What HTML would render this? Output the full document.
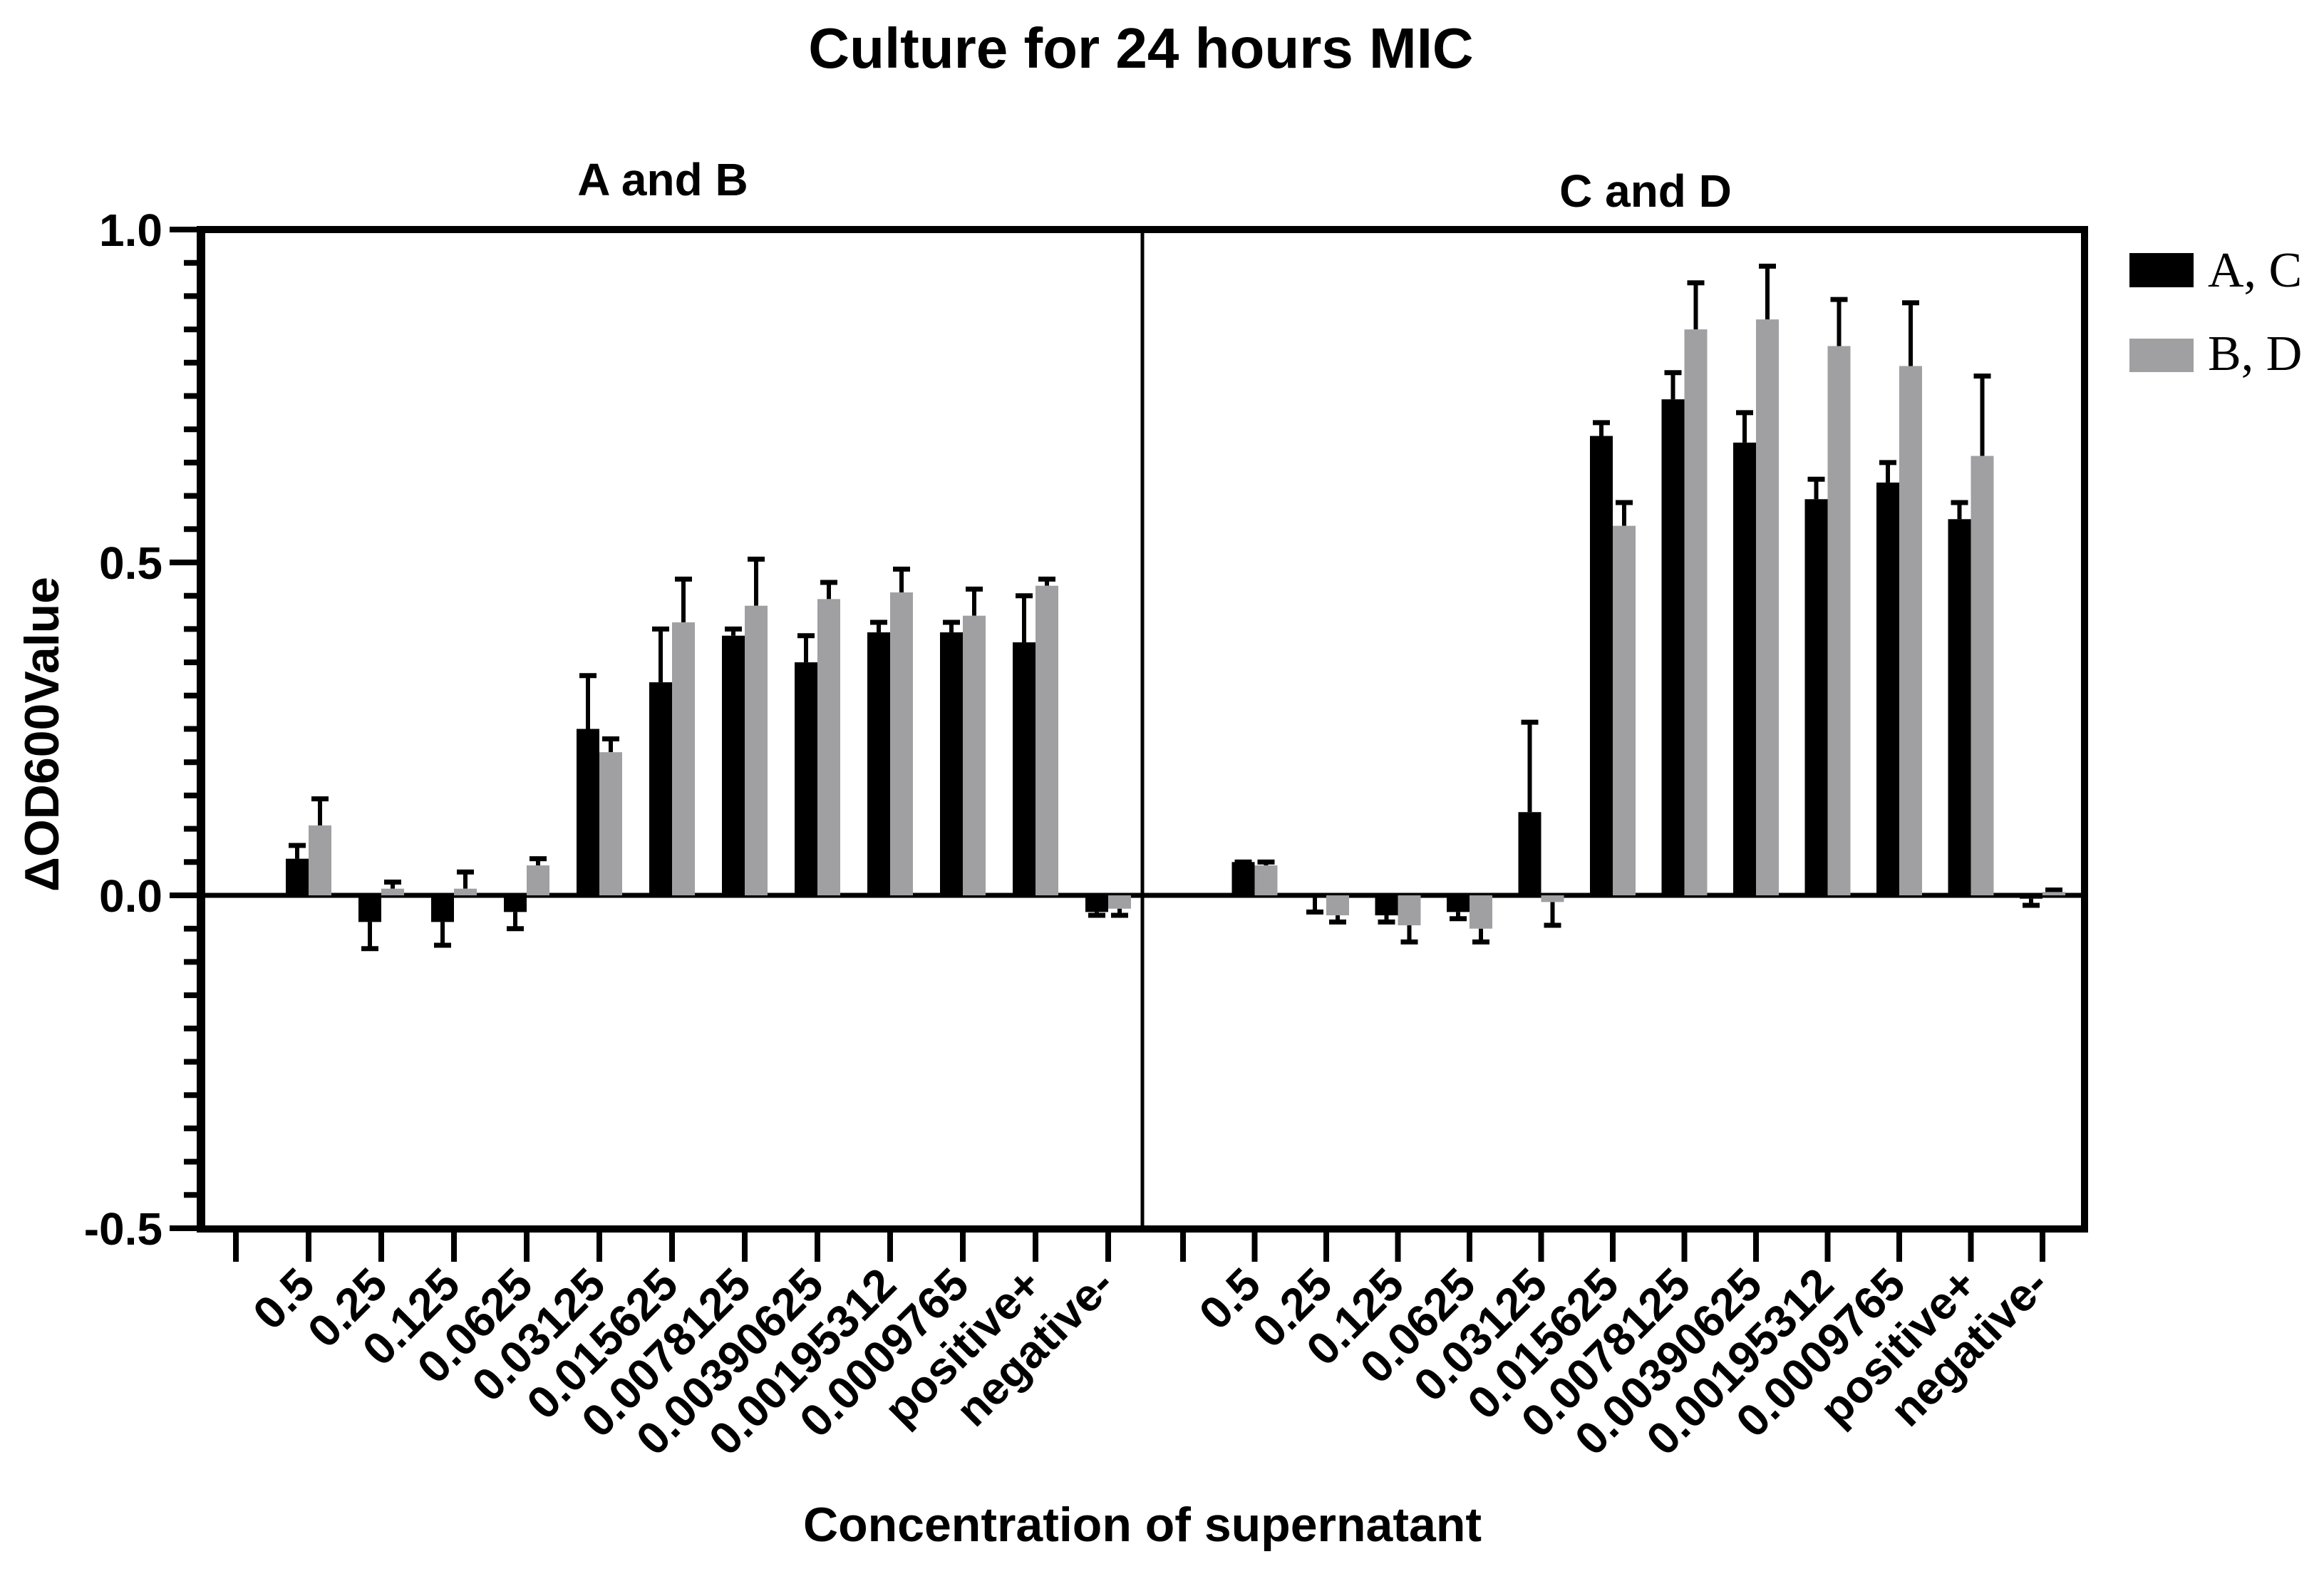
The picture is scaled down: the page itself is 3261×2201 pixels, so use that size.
<!DOCTYPE html>
<html><head><meta charset="utf-8"><style>
html,body{margin:0;padding:0;background:#fff;}
svg{display:block;}
text{font-family:"Liberation Sans",Arial,sans-serif;font-weight:bold;fill:#000;}
</style></head><body>
<svg id="chart" width="3261" height="2201" viewBox="0 0 3261 2201" xmlns="http://www.w3.org/2000/svg">
<text x="1601" y="95" font-size="80" text-anchor="middle">Culture for 24 hours MIC</text>
<text x="930" y="274" font-size="64" text-anchor="middle">A and B</text>
<text x="2309" y="290" font-size="64" text-anchor="middle">C and D</text>
<text transform="translate(82,1030) rotate(-90)" font-size="68" text-anchor="middle">ΔOD600Value</text>
<text x="1603" y="2162" font-size="68" text-anchor="middle">Concentration of supernatant</text>
<g id="marks"></g>
<g>
<rect x="2988" y="355" width="90" height="48" fill="#000"/>
<text x="3098" y="402" font-size="70" style="font-family:'Liberation Serif',serif;font-weight:normal">A, C</text>
<rect x="2988" y="475" width="90" height="47" fill="#a0a0a3"/>
<text x="3098" y="519" font-size="70" style="font-family:'Liberation Serif',serif;font-weight:normal">B, D</text>
</g>
</svg>
<script>
const categories = ["0.5","0.25","0.125","0.0625","0.03125","0.015625","0.0078125","0.00390625","0.00195312","0.0009765","positive+","negative-"];
const seriesA = [0.055,-0.04,-0.04,-0.025,0.25,0.32,0.39,0.35,0.395,0.395,0.38,-0.025];
const errA    = [0.075,-0.08,-0.075,-0.05,0.33,0.40,0.40,0.39,0.41,0.41,0.45,-0.03];
const seriesB = [0.105,0.01,0.01,0.045,0.215,0.41,0.435,0.445,0.455,0.42,0.465,-0.02];
const errB    = [0.145,0.02,0.035,0.055,0.235,0.475,0.505,0.47,0.49,0.46,0.475,-0.03];
const seriesC = [0.05,-0.002,-0.03,-0.025,0.125,0.69,0.745,0.68,0.595,0.62,0.565,-0.005];
const errC    = [0.05,-0.025,-0.04,-0.035,0.26,0.71,0.785,0.725,0.625,0.65,0.59,-0.015];
const seriesD = [0.045,-0.03,-0.045,-0.05,-0.01,0.555,0.85,0.865,0.825,0.795,0.66,0.005];
const errD    = [0.05,-0.04,-0.07,-0.07,-0.045,0.59,0.92,0.945,0.895,0.89,0.78,0.008];
const yTicks = [1.0,0.5,0.0,-0.5];
const yTickLabels = ["1.0","0.5","0.0","-0.5"];

const NS="http://www.w3.org/2000/svg";
const g=document.getElementById('marks');
const TOP=322,BOT=1724,LEFT=282,MID=1603,RIGHT=2925;
function y(v){return 1256 - v*(1256-TOP);}
function xL(i){return 331 + (i+1)*102;}
function xR(i){return 1660 + (i+1)*100.5;}
function mk(tag,attrs){const e=document.createElementNS(NS,tag);for(const k in attrs)e.setAttribute(k,attrs[k]);g.appendChild(e);return e;}

let e;
e=mk('rect',{x:LEFT,y:TOP,width:RIGHT-LEFT,height:BOT-TOP,fill:'none',stroke:'#000','stroke-width':10});


e=mk('line',{x1:LEFT,y1:TOP-5,x2:LEFT,y2:BOT+5,stroke:'#000','stroke-width':12});


e=mk('line',{x1:MID,y1:TOP,x2:MID,y2:BOT,stroke:'#000','stroke-width':5});



for(let k=0;k<=30;k++){
  const v=1-k*0.05;
  const major=(k%10===0);
  e=mk('line',{x1:major?238:258,y1:y(v),x2:LEFT,y2:y(v),stroke:'#000','stroke-width':8});
  
  
}
yTicks.forEach((v,i)=>{
  e=mk('text',{x:228,y:y(v)+23,'font-size':64,'text-anchor':'end'});
  e.textContent=yTickLabels[i];
  
  
});

function panel(xf,s1,e1,s2,e2,name){
  e=mk('line',{x1:name==='left'?LEFT:MID,y1:y(0),x2:name==='left'?MID:RIGHT,y2:y(0),stroke:'#000','stroke-width':7});
  
  
  for(let i=-1;i<categories.length;i++){
    e=mk('line',{x1:xf(i),y1:BOT,x2:xf(i),y2:1770,stroke:'#000','stroke-width':8});
    
    
  }
  categories.forEach((c,i)=>{
    const cx=xf(i);
    [[s1,e1,'#000',cx-32,'series-1'],[s2,e2,'#a0a0a3',cx,'series-2']].forEach(([s,er,col,bx,sn])=>{
      const v=s[i],t=er[i];
      const bc=bx+16;
      e=mk('line',{x1:bc,y1:y(v),x2:bc,y2:y(t),stroke:'#000','stroke-width':6});
      
      
      e=mk('line',{x1:bc-12,y1:y(t),x2:bc+12,y2:y(t),stroke:'#000','stroke-width':7});
      
      
      e=mk('rect',{x:bx,y:Math.min(y(v),y(0)),width:32,height:Math.abs(y(v)-y(0)),fill:col});
      
      
    });
    e=mk('text',{transform:`translate(${cx+12},1806) rotate(-45)`,'font-size':64,'text-anchor':'end'});
    e.textContent=c;
    
    
  });
}
panel(xL,seriesA,errA,seriesB,errB,'left');
panel(xR,seriesC,errC,seriesD,errD,'right');
</script>
</body></html>
